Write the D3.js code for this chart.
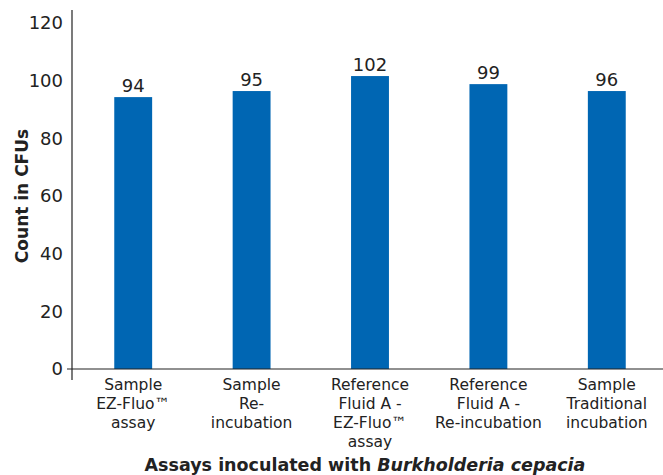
<!DOCTYPE html>
<html>
<head>
<meta charset="utf-8">
<script src="https://cdn.jsdelivr.net/npm/d3@7"></script>
<style>
  body { margin: 0; background: #fff; }
  text { font-family: "DejaVu Sans", Verdana, sans-serif; fill: #222; }
</style>
</head>
<body>
<div id="chart"></div>
<script>
var categories = [
    ["Sample", "EZ-Fluo\u2122", "assay"],
    ["Sample", "Re-", "incubation"],
    ["Reference", "Fluid A -", "EZ-Fluo\u2122", "assay"],
    ["Reference", "Fluid A -", "Re-incubation"],
    ["Sample", "Traditional", "incubation"]
];
// bar heights as drawn in the picture, and the printed value labels
var barHeights = [94.3, 96.4, 101.6, 98.8, 96.4];
var valueLabels = [94, 95, 102, 99, 96];
var yTicks = [0, 20, 40, 60, 80, 100, 120];

var width = 663, height = 475;
var margin = ({ top: 10, right: -3, bottom: 106, left: 72 });
var barColor = '#0066b3';

var svg = d3.select('#chart')
    .append('svg')
    .attr('width', width)
    .attr('height', height);

var x = d3.scaleBand()
    .domain(d3.range(barHeights.length))
    .range([margin.left + 2, width - margin.right])
    .paddingInner(0.68)
    .paddingOuter(0.34);

var y = d3.scaleLinear()
    .domain([0, 120])
    .range([369, 23]);

// bars
svg.append("g")
    .selectAll("rect").data(barHeights).enter().append("rect")
    .attr("x", (d, i) => x(i))
    .attr("y", d => y(d))
    .attr("width", x.bandwidth())
    .attr("height", d => y(0) - y(d))
    .attr("fill", barColor);

// value labels
svg.append("g")
    .selectAll("text").data(valueLabels).enter().append("text")
    .attr("x", (d, i) => x(i) + x.bandwidth() / 2)
    .attr("y", (d, i) => y(barHeights[i]) - 5)
    .attr("text-anchor", "middle")
    .style("font-size", "18px")
    .text(d => d);

// y axis
var yAxis = svg.append("g")
    .attr("transform", `translate(${margin.left},0)`)
    .call(d3.axisLeft(y).tickValues(yTicks).tickSize(0).tickPadding(9));
yAxis.select(".domain").remove();
yAxis.selectAll("text").style("font-size", "18px").attr("fill", "#222");
svg.append("line")
    .attr("x1", margin.left).attr("x2", margin.left)
    .attr("y1", 10).attr("y2", 380)
    .attr("stroke", "#222").attr("stroke-width", 1.2);
svg.append("line")
    .attr("x1", margin.left - 5).attr("x2", width)
    .attr("y1", y(0)).attr("y2", y(0))
    .attr("stroke", "#222").attr("stroke-width", 1.2);

// category labels
var cat = svg.append("g")
    .selectAll("text").data(categories).enter().append("text")
    .attr("x", (d, i) => x(i) + x.bandwidth() / 2)
    .attr("y", 390)
    .attr("text-anchor", "middle")
    .style("font-size", "15.5px");
cat.selectAll("tspan").data(d => d).enter().append("tspan")
    .attr("x", function () { return d3.select(this.parentNode).attr("x"); })
    .attr("dy", (d, i) => i === 0 ? 0 : 19)
    .text(d => d);

// axis titles
var xt = svg.append("text")
    .attr("x", 365)
    .attr("y", 471)
    .attr("text-anchor", "middle")
    .style("font-size", "17.5px")
    .style("font-weight", "bold");
xt.append("tspan").text("Assays inoculated with ");
xt.append("tspan").style("font-style", "italic").text("Burkholderia cepacia");

svg.append("text")
    .attr("transform", "translate(28,196) rotate(-90)")
    .attr("text-anchor", "middle")
    .style("font-size", "17px")
    .style("font-weight", "bold")
    .text("Count in CFUs");
</script>
</body>
</html>
